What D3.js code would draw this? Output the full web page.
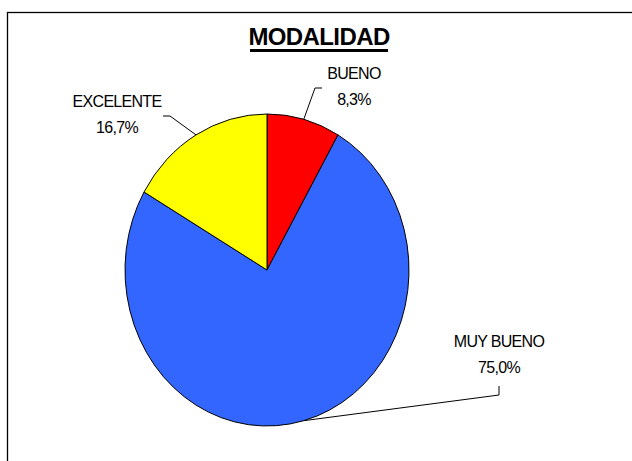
<!DOCTYPE html>
<html>
<head>
<meta charset="utf-8">
<script src="https://cdn.jsdelivr.net/npm/d3@7"></script>
<style>
  body { margin: 0; background: #fff; }
  text { font-family: "Liberation Sans", Arial, sans-serif; }
</style>
</head>
<body>
<div id="chart"></div>
<script>
// data
var categories = ["BUENO", "MUY BUENO", "EXCELENTE"];
var values = [1, 9, 2];
var percentLabels = ["8,3%", "75,0%", "16,7%"];
var colors = ["#FF0000", "#3366FF", "#FFFF00"];

var width = 632, height = 461;
var cx = 267, cy = 270, rx = 142, ry = 156;

var svg = d3.select("#chart")
    .append("svg")
    .attr("width", width)
    .attr("height", height);

// frame (only top/left are inside the picture)
svg.append("rect")
    .attr("x", 7.5)
    .attr("y", 12.5)
    .attr("width", 800)
    .attr("height", 800)
    .attr("fill", "none")
    .attr("stroke", "#000")
    .attr("stroke-width", 1.3);

// title
svg.append("text")
    .attr("x", 319)
    .attr("y", 45)
    .attr("text-anchor", "middle")
    .attr("font-size", 24)
    .attr("font-weight", "bold")
    .attr("letter-spacing", -0.6)
    .text("MODALIDAD");
svg.append("rect")
    .attr("x", 250)
    .attr("y", 49)
    .attr("width", 138)
    .attr("height", 3)
    .attr("fill", "#000");

var pie = d3.pie().sort(null).value(function(d) { return d; });
var arcs = pie(values);

var R = 100;
var arc = d3.arc().innerRadius(0).outerRadius(R);

var g = svg.append("g")
    .attr("transform", "translate(" + cx + "," + cy + ") scale(" + (rx / R) + "," + (ry / R) + ")");

g.selectAll("path")
    .data(arcs)
    .enter()
    .append("path")
    .attr("d", arc)
    .attr("fill", function(d, i) { return colors[i]; })
    .attr("stroke", "#000")
    .attr("stroke-width", 1)
    .attr("vector-effect", "non-scaling-stroke");

// point on the ellipse edge for a given angle (d3 pie angles, 0 = top)
function edge(a) {
    return [cx + rx * Math.sin(a), cy - ry * Math.cos(a)];
}

// label placement: text x, first baseline, leader bend + end
var labelPos = [
    { x: 354, y: 79, leader: [[315, 88], [322, 88]] },
    { x: 499, y: 347, leader: [[499, 395], [499, 386]] },
    { x: 117, y: 107, leader: [[170, 116], [163, 116]] }
];

arcs.forEach(function(d, i) {
    var p = labelPos[i];
    var e = edge((d.startAngle + d.endAngle) / 2);
    svg.append("path")
        .attr("d", d3.line()([e].concat(p.leader)))
        .attr("fill", "none")
        .attr("stroke", "#000")
        .attr("stroke-width", 1);

    var t = svg.append("text")
        .attr("text-anchor", "middle")
        .attr("font-size", 16)
        .attr("letter-spacing", -0.7)
        .attr("fill", "#000");
    t.append("tspan").attr("x", p.x).attr("y", p.y).text(categories[i]);
    t.append("tspan").attr("x", p.x).attr("y", p.y + 26).text(percentLabels[i]);
});
</script>
</body>
</html>
